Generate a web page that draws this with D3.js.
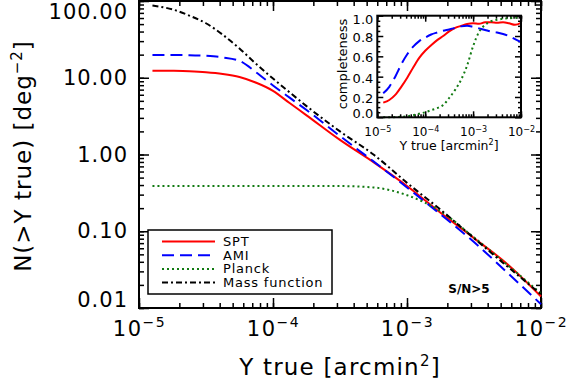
<!DOCTYPE html>
<html>
<head>
<meta charset="utf-8">
<title>N(>Y true) vs Y true</title>
<script src="https://cdn.jsdelivr.net/npm/d3@7"></script>
<style>
  body { margin: 0; background: #fff; }
  svg { display: block; font-family: "DejaVu Sans", sans-serif; }
  .frame { fill: none; stroke: #000; stroke-width: 2; }
  .tick line { stroke: #000; stroke-width: 1.5; }
  .domain { display: none; }
</style>
</head>
<body>
<svg id="chart" width="567" height="382"></svg>
<script>
// ---- main panel: cumulative counts N(>Y true) [deg^-2]
const yTrue = [1.26e-5, 1.78e-5, 2.37e-5, 3.16e-5, 4.22e-5, 5.62e-5, 7.50e-5, 1e-4, 1.33e-4, 1.78e-4,
               3.16e-4, 5.62e-4, 1e-3, 1.78e-3, 3.16e-3, 5.62e-3, 1e-2];
const nSPT    = [12.36, 12.30, 12.16, 11.83, 11.22, 10.23, 8.61, 6.76, 4.68, 3.24,
                 1.55, 0.794, 0.389, 0.174, 0.0813, 0.0372, 0.0141];
const nAMI    = [19.8, 19.8, 19.7, 19.3, 18.4, 16.6, 11.75, 7.94, 5.50, 3.80,
                 1.74, 0.813, 0.372, 0.166, 0.0724, 0.0288, 0.0112];
const nPlanck = [0.389, 0.389, 0.389, 0.389, 0.389, 0.389, 0.389, 0.389, 0.389, 0.389,
                 0.388, 0.372, 0.295, 0.182, 0.0832, 0.0363, 0.0155];
const nMassFn = [87.1, 77.6, 64.6, 51.3, 36.3, 24.0, 15.1, 9.77, 6.46, 4.27,
                 2.00, 1.00, 0.427, 0.191, 0.0813, 0.0347, 0.0151];

// ---- inset: completeness
const yInset = [1.33e-5, 1.78e-5, 2.37e-5, 3.16e-5, 4.22e-5, 5.62e-5, 7.50e-5, 1e-4, 1.33e-4, 1.78e-4, 2.37e-4, 3.16e-4,
                4.22e-4, 5.62e-4, 7.50e-4, 1e-3, 1.33e-3, 1.78e-3, 2.37e-3, 3.16e-3, 4.22e-3, 5.62e-3, 7.50e-3, 1e-2];
const cSPT    = [0.144, 0.17, 0.22, 0.30, 0.39, 0.49, 0.585, 0.655, 0.71, 0.76, 0.80, 0.845,
                 0.88, 0.90, 0.918, 0.925, 0.92, 0.935, 0.935, 0.93, 0.935, 0.925, 0.91, 0.93];
const cAMI    = [0.236, 0.30, 0.40, 0.52, 0.62, 0.695, 0.75, 0.785, 0.815, 0.835, 0.852, 0.865,
                 0.88, 0.895, 0.90, 0.89, 0.875, 0.86, 0.845, 0.835, 0.82, 0.80, 0.77, 0.74];
const cPlanck = [0.0, 0.0, 0.002, 0.005, 0.01, 0.02, 0.035, 0.05, 0.07, 0.09, 0.12, 0.19,
                 0.27, 0.37, 0.51, 0.70, 0.84, 0.91, 0.945, 0.96, 0.97, 0.975, 0.98, 0.985];

const xMajors = [1e-5, 1e-4, 1e-3, 1e-2];
const yMajors = [0.01, 0.1, 1, 10, 100];
const cMajors = [0, 0.2, 0.4, 0.6, 0.8, 1.0];
const cMinors = [0.05, 0.1, 0.15, 0.25, 0.3, 0.35, 0.45, 0.5, 0.55, 0.65, 0.7, 0.75, 0.85, 0.9, 0.95];

const series = [
  { name: "SPT",           main: nSPT,    inset: cSPT,    color: "#ff0000", dash: null },
  { name: "AMI",           main: nAMI,    inset: cAMI,    color: "#0000ff", dash: "12,6" },
  { name: "Planck",        main: nPlanck, inset: cPlanck, color: "#117a11", dash: "2,3" },
  { name: "Mass function", main: nMassFn, inset: null,    color: "#000000", dash: "6,3,2,3" }
];

const svg = d3.select("#chart");

// main plot box
const M = { left: 139, right: 541, top: 1, bottom: 308 };
const x = d3.scaleLog().domain([1e-5, 1e-2]).range([M.left, M.right]);
const y = d3.scaleLog().domain([0.01, 100]).range([M.bottom, M.top]);

function sup(sel, base, exp, size, dy) {
  sel.text("");
  sel.append("tspan").text(base);
  sel.append("tspan").attr("dy", -dy).attr("font-size", size).text(exp);
}

// minor ticks (all four sides)
const g = svg.append("g");
g.append("g").attr("transform", `translate(0,${M.bottom})`)
  .call(d3.axisBottom(x).tickValues(x.ticks()).tickSize(-5).tickFormat(""));
g.append("g").attr("transform", `translate(0,${M.top})`)
  .call(d3.axisTop(x).tickValues(x.ticks()).tickSize(-5).tickFormat(""));
g.append("g").attr("transform", `translate(${M.left},0)`)
  .call(d3.axisLeft(y).tickValues(y.ticks()).tickSize(-5).tickFormat(""));
g.append("g").attr("transform", `translate(${M.right},0)`)
  .call(d3.axisRight(y).tickValues(y.ticks()).tickSize(-5).tickFormat(""));

// major ticks with labels
g.append("g").attr("transform", `translate(0,${M.bottom})`)
  .call(d3.axisBottom(x).tickValues(xMajors).tickSize(-10).tickPadding(13))
  .selectAll("text").attr("font-size", 21).attr("fill", "#000").attr("letter-spacing", 1.5)
  .attr("font-family", "DejaVu Sans")
  .each(function(d) { sup(d3.select(this), "10", "\u2212" + Math.abs(Math.round(Math.log10(d))), 14, 9); });
g.append("g").attr("transform", `translate(0,${M.top})`)
  .call(d3.axisTop(x).tickValues(xMajors).tickSize(-10).tickFormat(""));
g.append("g").attr("transform", `translate(${M.left},0)`)
  .call(d3.axisLeft(y).tickValues(yMajors).tickSize(-10).tickPadding(11).tickFormat(d3.format(".2f")))
  .selectAll("text").attr("font-size", 21).attr("fill", "#000").attr("letter-spacing", 1)
  .attr("font-family", "DejaVu Sans")
  .attr("transform", d => d === 100 ? "translate(0,11)" : d === 0.01 ? "translate(0,-8)" : null);
g.append("g").attr("transform", `translate(${M.right},0)`)
  .call(d3.axisRight(y).tickValues(yMajors).tickSize(-10).tickFormat(""));

svg.append("rect").attr("class", "frame")
  .attr("x", M.left).attr("y", M.top)
  .attr("width", M.right - M.left).attr("height", M.bottom - M.top);

// axis titles
const xt = svg.append("text").attr("x", 340).attr("y", 375).attr("text-anchor", "middle")
  .attr("font-size", 23).attr("letter-spacing", 1.2);
xt.append("tspan").text("Y true [arcmin");
xt.append("tspan").attr("dy", -9).attr("font-size", 15).text("2");
xt.append("tspan").attr("dy", 9).text("]");

const yt = svg.append("text").attr("transform", "translate(31,156) rotate(-90)")
  .attr("text-anchor", "middle").attr("font-size", 23).attr("letter-spacing", 1);
yt.append("tspan").text("N(>Y true)  [deg");
yt.append("tspan").attr("dy", -9).attr("font-size", 15).text("\u22122");
yt.append("tspan").attr("dy", 9).text("]");

// curves
const mainLine = d3.line().x(d => x(d[0])).y(d => y(d[1])).curve(d3.curveMonotoneX);
series.forEach(s => {
  svg.append("path")
    .attr("d", mainLine(yTrue.map((v, i) => [v, s.main[i]])))
    .attr("fill", "none").attr("stroke", s.color).attr("stroke-width", 2)
    .attr("stroke-dasharray", s.dash);
});

// legend
const leg = svg.append("g");
leg.append("rect").attr("x", 148).attr("y", 230).attr("width", 184).attr("height", 64)
  .attr("fill", "#fff").attr("stroke", "#000").attr("stroke-width", 1.5);
series.forEach((s, i) => {
  const ry = 241.5 + i * 13.7;
  leg.append("line").attr("x1", 162).attr("x2", 215).attr("y1", ry).attr("y2", ry)
    .attr("stroke", s.color).attr("stroke-width", 2).attr("stroke-dasharray", s.dash);
  leg.append("text").attr("x", 223).attr("y", ry + 4.5).attr("font-size", 13)
    .attr("letter-spacing", 0.8).text(s.name);
});

svg.append("text").attr("x", 469).attr("y", 293).attr("text-anchor", "middle")
  .attr("font-size", 12).attr("font-weight", "bold").text("S/N>5");

// ---- inset
const I = { left: 377.3, right: 521, top: 15.7, bottom: 117.3 };
const xi = d3.scaleLog().domain([1e-5, 1e-2]).range([I.left, I.right]);
const yi = d3.scaleLinear().domain([0, 1]).range([I.bottom, I.top]);
const gi = svg.append("g");
gi.append("rect").attr("x", I.left).attr("y", I.top)
  .attr("width", I.right - I.left).attr("height", I.bottom - I.top).attr("fill", "#fff");

gi.append("g").attr("transform", `translate(0,${I.bottom})`)
  .call(d3.axisBottom(xi).tickValues(xi.ticks()).tickSize(-3).tickFormat(""));
gi.append("g").attr("transform", `translate(0,${I.top})`)
  .call(d3.axisTop(xi).tickValues(xi.ticks()).tickSize(-3).tickFormat(""));
gi.append("g").attr("transform", `translate(${I.left},0)`)
  .call(d3.axisLeft(yi).tickValues(cMinors).tickSize(-3).tickFormat(""));
gi.append("g").attr("transform", `translate(${I.right},0)`)
  .call(d3.axisRight(yi).tickValues(cMinors).tickSize(-3).tickFormat(""));

gi.append("g").attr("transform", `translate(0,${I.bottom})`)
  .call(d3.axisBottom(xi).tickValues(xMajors).tickSize(-6).tickPadding(10))
  .selectAll("text").attr("font-size", 12).attr("fill", "#000").attr("font-family", "DejaVu Sans")
  .each(function(d) { sup(d3.select(this), "10", "\u2212" + Math.abs(Math.round(Math.log10(d))), 8, 4); });
gi.append("g").attr("transform", `translate(0,${I.top})`)
  .call(d3.axisTop(xi).tickValues(xMajors).tickSize(-6).tickFormat(""));
gi.append("g").attr("transform", `translate(${I.left},0)`)
  .call(d3.axisLeft(yi).tickValues(cMajors).tickSize(-6).tickPadding(4).tickFormat(d3.format(".1f")))
  .selectAll("text").attr("font-size", 13).attr("fill", "#000").attr("font-family", "DejaVu Sans")
  .attr("dy", d => d === 1 ? "0.62em" : d === 0 ? "0.05em" : "0.42em");
gi.append("g").attr("transform", `translate(${I.right},0)`)
  .call(d3.axisRight(yi).tickValues(cMajors).tickSize(-6).tickFormat(""));

const insetLine = d3.line().x(d => xi(d[0])).y(d => yi(d[1])).curve(d3.curveMonotoneX);
series.filter(s => s.inset).forEach(s => {
  gi.append("path")
    .attr("d", insetLine(yInset.map((v, i) => [v, s.inset[i]])))
    .attr("fill", "none").attr("stroke", s.color).attr("stroke-width", 2)
    .attr("stroke-dasharray", s.dash);
});

gi.append("rect").attr("class", "frame").attr("x", I.left).attr("y", I.top)
  .attr("width", I.right - I.left).attr("height", I.bottom - I.top);

const it = gi.append("text").attr("x", 449).attr("y", 149.5).attr("text-anchor", "middle").attr("font-size", 12.5);
it.append("tspan").text("Y true [arcmin");
it.append("tspan").attr("dy", -5).attr("font-size", 8).text("2");
it.append("tspan").attr("dy", 5).text("]");

gi.append("text").attr("transform", "translate(347,64) rotate(-90)")
  .attr("text-anchor", "middle").attr("font-size", 13).text("completeness");
</script>
</body>
</html>
